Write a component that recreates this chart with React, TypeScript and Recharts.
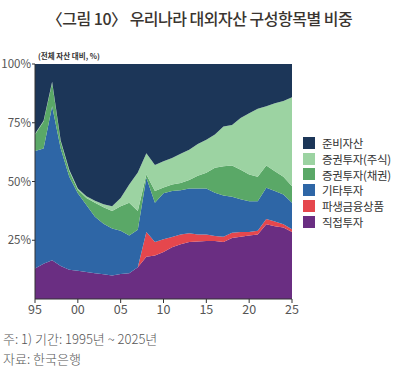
import React from "react";
import { AreaChart, Area, XAxis, YAxis } from "recharts";

const years = [
  1995, 1996, 1997, 1998, 1999, 2000, 2001, 2002, 2003, 2004, 2005, 2006, 2007, 2008, 2009, 2010,
  2011, 2012, 2013, 2014, 2015, 2016, 2017, 2018, 2019, 2020, 2021, 2022, 2023, 2024, 2025,
];

// 직접투자
const direct = [
  13, 15, 16.5, 14, 12.5, 12, 11.5, 11, 10.5, 10, 10.6, 11, 13.5, 18, 18.5, 20, 22, 23.3, 24.3,
  24.5, 24.7, 24.7, 24.3, 26, 26.5, 27, 27.5, 31.8, 31, 30.4, 28.5,
];
// 파생금융상품
const derivative = [
  0, 0, 0, 0, 0, 0, 0, 0, 0, 0, 0, 0, 0, 10.5, 5.8, 5.4, 4.4, 4.2, 3.7, 3, 2.8, 2.1, 2.2, 2.2, 2,
  1.5, 1.5, 2.2, 2, 1.4, 1.2,
];
// 기타투자
const other = [
  50, 49, 65.5, 50, 39.5, 33, 28.5, 24, 21.5, 20, 18.4, 16, 16, 23.1, 16.7, 19.6, 19.6, 18.8, 19,
  19.5, 19.5, 18.4, 17.5, 15.3, 13.9, 13.1, 12.6, 13.3, 13, 12.7, 11.3,
];
// 증권투자(채권)
const bonds = [
  7, 11.5, 10, 3, 2.5, 1.5, 3, 6, 7, 7.5, 10.5, 14, 8, 1.4, 5, 2.4, 2.7, 3.1, 3.6, 5.5, 6.7, 10.6,
  12.5, 13.3, 12.6, 11.4, 10.4, 9.5, 8.4, 7.5, 7,
];
// 증권투자(주식)
const equity = [
  0.3, 0.3, 0.4, 0.5, 0.5, 0.5, 0.7, 0.8, 1.3, 2, 3.5, 7.7, 16.3, 9, 11, 11.2, 11.3, 12.4, 12.9,
  13.5, 14.1, 14.2, 16.9, 17.2, 22, 26, 29, 25.2, 28.9, 32.3, 37.9,
];
// 준비자산
const reserves = [
  29.7, 24.2, 7.6, 32.5, 45, 53, 56.3, 58.2, 59.7, 60.5, 57, 51.3, 46.2, 38, 43, 41.4, 40, 38.2,
  36.5, 34, 32.2, 30, 26.6, 26, 23, 21, 19, 18, 16.7, 15.7, 14.1,
];

const xTicks = [1995, 2000, 2005, 2010, 2015, 2020, 2025];
const yTicks = [0.25, 0.5, 0.75, 1];

const series = [
  { key: "direct", name: "직접투자", color: "#6a2e82" },
  { key: "derivative", name: "파생금융상품", color: "#e5474d" },
  { key: "other", name: "기타투자", color: "#2e66a6" },
  { key: "bonds", name: "증권투자(채권)", color: "#5aa867" },
  { key: "equity", name: "증권투자(주식)", color: "#9cd3a2" },
  { key: "reserves", name: "준비자산", color: "#1c3658" },
];

const data = years.map((year, i) => ({
  year,
  direct: direct[i],
  derivative: derivative[i],
  other: other[i],
  bonds: bonds[i],
  equity: equity[i],
  reserves: reserves[i],
}));

const FONT = "'Noto Sans CJK KR', 'Noto Sans', sans-serif";

function LegendBox() {
  const items = [...series].reverse();
  return (
    <div style={{ fontFamily: FONT }}>
      {items.map((s) => (
        <div key={s.key} style={{ display: "flex", alignItems: "center", height: 15.8 }}>
          <span style={{ width: 12, height: 12, background: s.color, display: "inline-block" }} />
          <span style={{ marginLeft: 7, fontSize: 11.5, color: "#333", letterSpacing: -0.3 }}>
            {s.name}
          </span>
        </div>
      ))}
    </div>
  );
}

export default function App() {
  return (
    <div
      style={{
        position: "absolute",
        left: 0,
        top: 0,
        width: 399,
        height: 370,
        background: "#fff",
        fontFamily: FONT,
      }}
    >
      <div
        style={{
          position: "absolute",
          top: 6,
          left: 0,
          width: 399,
          textAlign: "center",
          fontSize: 16,
          fontWeight: 500,
          color: "#3a3530",
          letterSpacing: -0.5,
        }}
      >
        〈그림 10〉 우리나라 대외자산 구성항목별 비중
      </div>
      <div
        style={{
          position: "absolute",
          top: 50,
          left: 38,
          fontSize: 7.5,
          fontWeight: 700,
          color: "#333",
        }}
      >
        (전체 자산 대비, %)
      </div>
      <div style={{ position: "absolute", left: 0, top: 0 }}>
        <AreaChart
          width={399}
          height={330}
          data={data}
          stackOffset="expand"
          margin={{ top: 64, right: 107, left: 0, bottom: 6 }}
        >
          <XAxis
            dataKey="year"
            type="number"
            domain={[1995, 2025]}
            ticks={xTicks}
            tickFormatter={(v) => String(v).slice(2)}
            tick={{ fontSize: 12.5, fill: "#555", fontFamily: FONT }}
            stroke="#333"
            tickSize={4}
            height={25}
          />
          <YAxis
            type="number"
            domain={[0, 1]}
            ticks={yTicks}
            tickFormatter={(v) => `${Math.round(v * 100)}%`}
            tick={{ fontSize: 11.5, fill: "#555", fontFamily: FONT }}
            stroke="#333"
            tickSize={3}
            tickMargin={1}
            width={35}
          />
          {series.map((s) => (
            <Area
              key={s.key}
              type="linear"
              dataKey={s.key}
              name={s.name}
              stackId="a"
              stroke="none"
              fill={s.color}
              fillOpacity={1}
              isAnimationActive={false}
            />
          ))}
        </AreaChart>
      </div>
      <div style={{ position: "absolute", left: 303, top: 135 }}>
        <LegendBox />
      </div>
      <div
        style={{
          position: "absolute",
          left: 3,
          top: 329,
          fontSize: 13,
          color: "#555",
          lineHeight: "20px",
          fontWeight: 300,
        }}
      >
        <div>주: 1) 기간: 1995년 ~ 2025년</div>
        <div>자료: 한국은행</div>
      </div>
    </div>
  );
}
